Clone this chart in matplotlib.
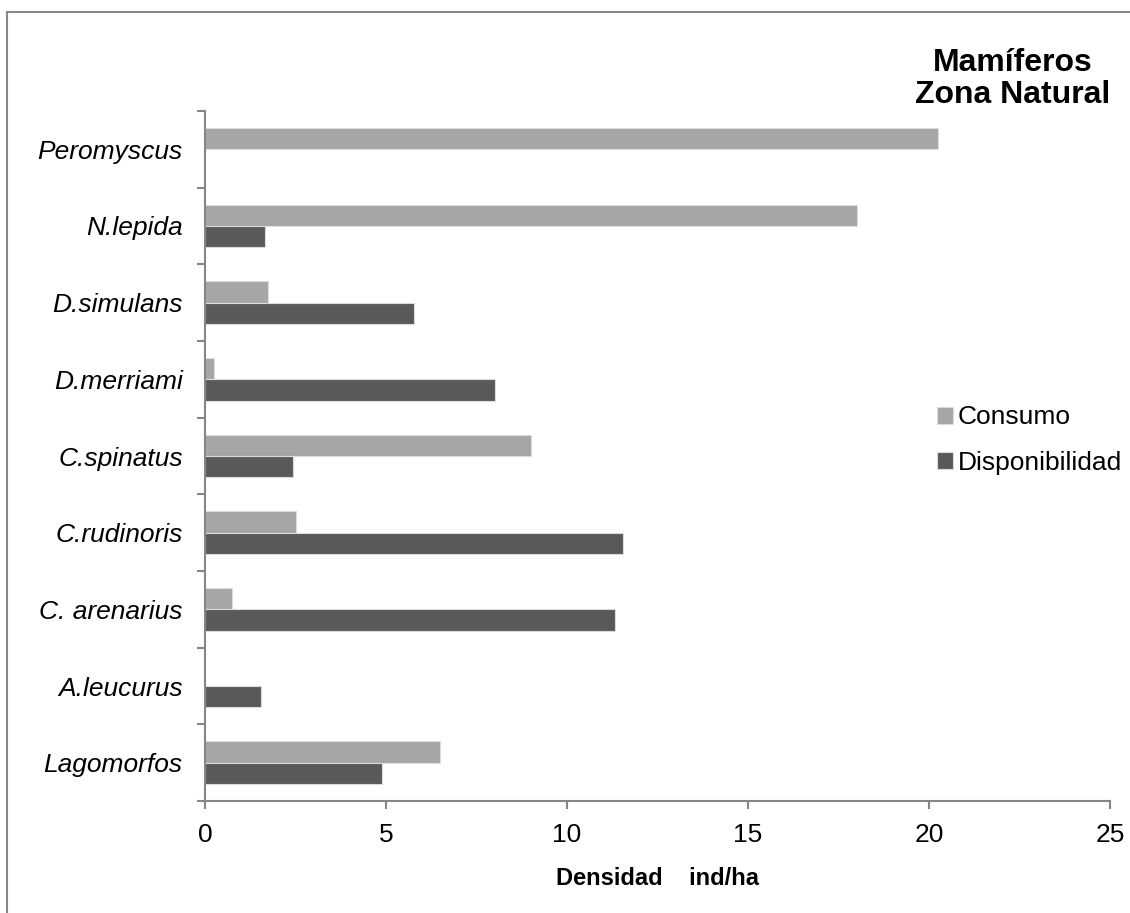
import numpy as np
import matplotlib.pyplot as plt
from matplotlib.patches import Rectangle

plt.rcParams['font.family'] = ['Liberation Sans', 'DejaVu Sans']

# data, top to bottom as in the chart
especies = ['Peromyscus', 'N.lepida', 'D.simulans', 'D.merriami', 'C.spinatus',
            'C.rudinoris', 'C. arenarius', 'A.leucurus', 'Lagomorfos']
consumo = [20.25, 18.0, 1.75, 0.25, 9.0, 2.5, 0.75, 0.0, 6.5]
disponibilidad = [0.0, 1.66, 5.77, 8.0, 2.43, 11.55, 11.33, 1.55, 4.88]
xticks = [0, 5, 10, 15, 20, 25]

c_cons = '#a6a6a6'
c_disp = '#595959'
axcol = '#868686'

fig = plt.figure(figsize=(11.3, 9.13), dpi=100)
ax = fig.add_axes([205/1130, 1 - 801/913, 905/1130, 690/913])

y = np.arange(len(especies))
h = 0.28
ax.barh(y - h/2, consumo, height=h, color=c_cons, edgecolor='#dcdcdc', linewidth=0.8, label='Consumo')
ax.barh(y + h/2, disponibilidad, height=h, color=c_disp, edgecolor='#dcdcdc', linewidth=0.8, label='Disponibilidad')

ax.set_xlim(0, 25)
ax.set_ylim(len(especies) - 0.5, -0.5)
ax.set_xticks(xticks)
ax.set_xticklabels([str(t) for t in xticks], fontsize=19)
ax.set_yticks(y)
ax.set_yticklabels(especies, fontsize=19, style='italic')
ax.set_yticks(np.arange(len(especies) + 1) - 0.5, minor=True)

ax.tick_params(axis='y', which='major', length=0, pad=16)
ax.tick_params(axis='y', which='minor', length=6, width=1.5, color=axcol, direction='out')
ax.tick_params(axis='x', which='major', length=6, width=1.5, color=axcol, direction='out', pad=10)

for s in ['top', 'right']:
    ax.spines[s].set_visible(False)
for s in ['left', 'bottom']:
    ax.spines[s].set_color(axcol)
    ax.spines[s].set_linewidth(1.5)

ax.set_xlabel('Densidad    ind/ha', fontsize=17, fontweight='bold', labelpad=14)

fig.text(1013/1130, 1 - 79/913, 'Mamíferos\nZona Natural', fontsize=23, fontweight='bold',
         ha='center', va='center', linespacing=1.1)

leg = ax.legend(loc='center left', bbox_to_anchor=(937/1130, 1 - 440/913),
                bbox_transform=fig.transFigure, frameon=False, fontsize=19,
                handlelength=0.6, handleheight=0.6, handletextpad=0.2, labelspacing=0.8,
                borderpad=0, borderaxespad=0)

# outer chart frame
fig.patches.append(Rectangle((7/1130, -0.05), 1.1, 1 - 12/913 + 0.05, transform=fig.transFigure,
                             fill=False, edgecolor='#878787', linewidth=1.5))

fig.savefig('out.png', dpi=100)
